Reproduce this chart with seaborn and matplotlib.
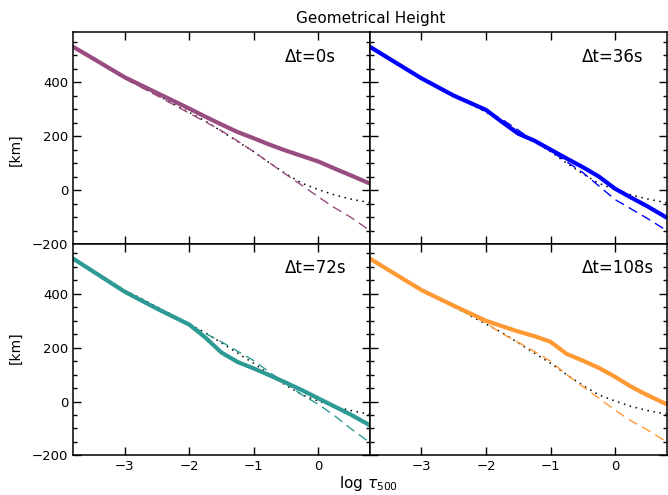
import matplotlib
matplotlib.use('Agg')
import numpy as np
import pandas as pd
import matplotlib.pyplot as plt
import seaborn as sns
from matplotlib.ticker import MultipleLocator

# log tau grid shared by every curve
log_tau = [-3.8, -3.5, -3.0, -2.5, -2.0, -1.75, -1.5, -1.25, -1.0, -0.75, -0.5, -0.25, 0.0, 0.25, 0.5, 0.8]

# reference (dotted, same in every panel)
h_ref = [531, 486, 414, 352, 288, 256, 218, 180, 142, 100, 60, 25, 2, -18, -33, -47]

# solid curves per time step
h_0s = [531, 489, 418, 360, 302, 272, 243, 215, 192, 168, 146, 126, 106, 80, 55, 24]
h_36s = [531, 487, 414, 350, 297, 252, 209, 183, 150, 117, 85, 50, 5, -28, -60, -102]
h_72s = [531, 485, 408, 345, 286, 238, 182, 147, 123, 97, 70, 42, 12, -18, -48, -88]
h_108s = [531, 487, 414, 356, 300, 280, 260, 243, 222, 177, 152, 125, 92, 55, 24, -10]

# dashed curves per time step
d_0s = [531, 486, 413, 350, 285, 253, 220, 182, 142, 100, 58, 17, -25, -65, -100, -150]
d_36s = [531, 487, 413, 352, 292, 262, 222, 180, 145, 105, 65, 15, -35, -70, -105, -150]
d_72s = [531, 485, 412, 350, 285, 253, 222, 187, 152, 108, 66, 25, -10, -52, -100, -152]
d_108s = [531, 486, 413, 352, 292, 252, 220, 186, 150, 100, 56, 12, -32, -72, -105, -150]

labels = ['\u0394t=0s', '\u0394t=36s', '\u0394t=72s', '\u0394t=108s']
colors = ['#994c80', '#0000ff', '#2e9a94', '#ff9933']
solids = [h_0s, h_36s, h_72s, h_108s]
dashes = [d_0s, d_36s, d_72s, d_108s]

sns.set_theme(style="ticks")
plt.rcParams['font.family'] = ['DejaVu Sans']
plt.rcParams['text.color'] = 'black'
plt.rcParams['xtick.color'] = 'black'
plt.rcParams['ytick.color'] = 'black'

fig = plt.figure(figsize=(6.68, 4.95), dpi=100)
L, R = 0.1093, 0.998
B, M, T = 0.080, 0.507, 0.935
w = (R - L) / 2
positions = [[L, M, w, T - M], [L + w, M, w, T - M],
             [L, B, w, M - B], [L + w, B, w, M - B]]

for i, pos in enumerate(positions):
    ax = fig.add_axes(pos)
    df = pd.DataFrame({'x': log_tau, 'ref': h_ref, 'h': solids[i], 'd': dashes[i]})
    sns.lineplot(data=df, x='x', y='ref', ax=ax, color='black', lw=1.1,
                 linestyle=(0, (1, 3)), sort=False)
    sns.lineplot(data=df, x='x', y='d', ax=ax, color=colors[i], lw=1.0,
                 linestyle=(0, (7, 4)), sort=False)
    sns.lineplot(data=df, x='x', y='h', ax=ax, color=colors[i], lw=3.0, sort=False)
    ax.set_xlim(-3.8, 0.8)
    ax.set_ylim(-200, 585)
    ax.set_xlabel('')
    ax.set_ylabel('')
    ax.xaxis.set_major_locator(MultipleLocator(1))
    ax.yaxis.set_major_locator(MultipleLocator(200))
    ax.yaxis.set_minor_locator(MultipleLocator(50))
    ax.tick_params(which='both', direction='in', top=True, right=True,
                   width=1, colors='black', labelsize=9.5)
    ax.tick_params(which='major', length=6)
    ax.tick_params(which='minor', length=3)
    for s in ax.spines.values():
        s.set_linewidth(1.1)
        s.set_color('black')
    if i % 2 == 1:
        ax.set_yticklabels([])
    if i < 2:
        ax.set_xticklabels([])
    ax.text(0.715, 0.885, labels[i], transform=ax.transAxes, fontsize=12,
            ha='left', va='center')

fig.text(0.555, 0.962, 'Geometrical Height', ha='center', va='center', fontsize=11)
fig.text(0.552, 0.024, r'log $\tau_{500}$', ha='center', va='center', fontsize=11)
fig.text(0.024, 0.697, '[km]', rotation=90, ha='center', va='center', fontsize=10)
fig.text(0.024, 0.297, '[km]', rotation=90, ha='center', va='center', fontsize=10)

fig.savefig('out.png', dpi=100)
